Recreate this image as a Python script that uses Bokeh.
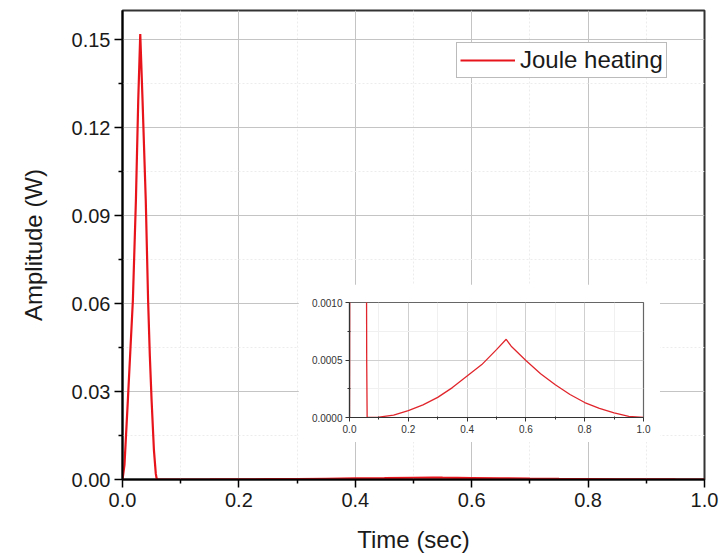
from bokeh.plotting import figure
from bokeh.layouts import column, row
from bokeh.models import Range1d, NumeralTickFormatter, FixedTicker, Legend, LegendItem
from bokeh.embed import file_html
from bokeh.resources import INLINE

# ---- data ----
time_s = [0.0, 0.0034, 0.0092, 0.0135, 0.0178, 0.023, 0.027, 0.0305,
          0.0345, 0.040, 0.044, 0.047, 0.050, 0.054, 0.0572, 0.0585, 0.060,
          0.08, 0.10, 0.15, 0.20, 0.25, 0.30, 0.35, 0.40, 0.45, 0.50, 0.533,
          0.55, 0.60, 0.65, 0.70, 0.75, 0.80, 0.85, 0.90, 0.95, 1.0]
power_w = [0.0, 0.005, 0.027, 0.044, 0.061, 0.095, 0.129, 0.152,
           0.129, 0.095, 0.061, 0.042, 0.027, 0.010, 0.002, 0.0005, 0.0,
           0.0, 0.000003, 0.00002, 0.00006, 0.00011, 0.000175, 0.00026, 0.00036,
           0.00046, 0.00059, 0.00068, 0.00062, 0.000495, 0.00038, 0.000285,
           0.0002, 0.00013, 0.00008, 0.00004, 0.00001, 0.0]
series_name = "Joule heating"
x_ticks = [0.0, 0.2, 0.4, 0.6, 0.8, 1.0]
x_minor = [0.1, 0.3, 0.5, 0.7, 0.9]
y_ticks = [0.0, 0.03, 0.06, 0.09, 0.12, 0.15]
y_minor = [0.015, 0.045, 0.075, 0.105, 0.135]
inset_y_ticks = [0.0, 0.0005, 0.001]
inset_y_minor = [0.00025, 0.00075]

FONT = "Liberation Sans"
RED = "#e8141c"

# ---- main figure ----
p = figure(width=720, height=555, output_backend="svg", toolbar_location=None,
           x_range=Range1d(0, 1.0), y_range=Range1d(0, 0.16),
           min_border_left=122, min_border_right=16, min_border_top=10, min_border_bottom=76)
p.background_fill_color = "white"
p.border_fill_color = "white"
p.outline_line_color = "#333333"
p.outline_line_width = 2

r = p.line(time_s, power_w, line_color=RED, line_width=2.2)

p.xaxis.ticker = FixedTicker(ticks=x_ticks, minor_ticks=x_minor)
p.yaxis.ticker = FixedTicker(ticks=y_ticks, minor_ticks=y_minor)
p.xaxis.formatter = NumeralTickFormatter(format="0.0")
p.yaxis.formatter = NumeralTickFormatter(format="0.00")
for ax in (p.xaxis[0], p.yaxis[0]):
    ax.axis_line_color = "black"
    ax.axis_line_width = 2
    ax.major_tick_line_color = "black"
    ax.major_tick_line_width = 1.5
    ax.minor_tick_line_color = "black"
    ax.minor_tick_line_width = 1.5
    ax.major_tick_out = 8
    ax.major_tick_in = 0
    ax.minor_tick_out = 4
    ax.minor_tick_in = 0
    ax.major_label_text_font = FONT
    ax.major_label_text_font_size = "20px"
    ax.major_label_text_color = "#1a1a1a"
    ax.axis_label_text_font = FONT
    ax.axis_label_text_font_size = "24px"
    ax.axis_label_text_font_style = "normal"
    ax.axis_label_text_color = "#1a1a1a"
p.xaxis.axis_label = "Time (sec)"
p.yaxis.axis_label = "Amplitude (W)"
p.xaxis.major_label_standoff = 5
p.yaxis.major_label_standoff = 4
p.xaxis.axis_label_standoff = 16
p.yaxis.axis_label_standoff = 22

for g in (p.xgrid[0], p.ygrid[0]):
    g.grid_line_color = "#c4c4c4"
    g.grid_line_width = 1
    g.minor_grid_line_color = "#ececec"
    g.minor_grid_line_dash = "2 2"
    g.minor_grid_line_width = 1

legend = Legend(items=[LegendItem(label=series_name, renderers=[r])],
                location=(334, 401))
legend.label_text_font = FONT
legend.label_text_font_size = "24px"
legend.label_text_color = "#1a1a1a"
legend.glyph_width = 55
legend.label_standoff = 5
legend.padding = 3
legend.spacing = 0
legend.margin = 0
legend.border_line_color = "#777777"
legend.border_line_width = 1
legend.background_fill_alpha = 1
p.add_layout(legend)

# ---- inset figure ----
inset = figure(width=362, height=158, output_backend="svg", toolbar_location=None,
               x_range=Range1d(0, 1.0), y_range=Range1d(0, 0.001),
               min_border_left=51, min_border_right=17, min_border_top=18, min_border_bottom=25)
inset.background_fill_color = "white"
inset.border_fill_color = "white"
inset.outline_line_color = "#666666"
inset.outline_line_width = 1.2
inset.line(time_s, power_w, line_color="#e0262c", line_width=1.3)

inset.xaxis.ticker = FixedTicker(ticks=x_ticks, minor_ticks=x_minor)
inset.yaxis.ticker = FixedTicker(ticks=inset_y_ticks, minor_ticks=inset_y_minor)
inset.xaxis.formatter = NumeralTickFormatter(format="0.0")
inset.yaxis.formatter = NumeralTickFormatter(format="0.0000")
for ax in (inset.xaxis[0], inset.yaxis[0]):
    ax.axis_line_color = "#333333"
    ax.axis_line_width = 1.2
    ax.major_tick_line_color = "#333333"
    ax.minor_tick_line_color = "#333333"
    ax.major_tick_out = 4
    ax.major_tick_in = 0
    ax.minor_tick_out = 2
    ax.minor_tick_in = 1
    ax.major_label_text_font = FONT
    ax.major_label_text_font_size = "10px"
    ax.major_label_text_color = "#333333"
    ax.major_label_standoff = 3
for g in (inset.xgrid[0], inset.ygrid[0]):
    g.grid_line_color = "#cfcfcf"
    g.grid_line_width = 1
    g.minor_grid_line_color = "#f0f0f0"
    g.minor_grid_line_width = 1

holder = row(inset)
holder.styles = {"position": "absolute", "left": "298px", "top": "284px", "z-index": "10"}

layout = column(p, holder)
open("out.html", "w").write(file_html(layout, INLINE))
